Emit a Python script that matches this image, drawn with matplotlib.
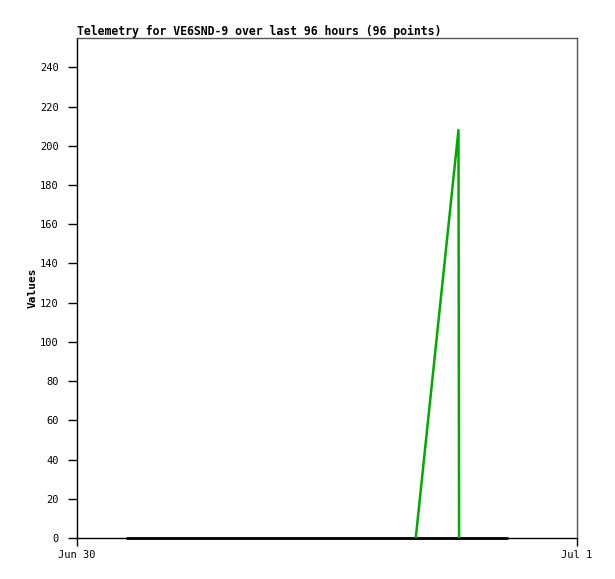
import matplotlib
matplotlib.use("Agg")
import matplotlib.pyplot as plt

# hours since Jun 30 00:00
zero_hours = [2.35, 20.67]
zero_vals = [0, 0]
green_hours = [16.26, 18.31, 18.34]
green_vals = [0, 208, 0]

y_ticks = list(range(0, 241, 20))
x_ticks = [0, 24]
x_labels = ["Jun 30", "Jul 1"]

mono = "DejaVu Sans Mono"

fig = plt.figure(figsize=(6.15, 5.79), dpi=100)
ax = fig.add_axes([77 / 615, 41 / 579, 500 / 615, 500 / 579])

ax.plot(zero_hours, zero_vals, color="black", lw=2.0, solid_capstyle="butt", zorder=3, clip_on=False)
ax.plot(green_hours, green_vals, color="#00aa00", lw=1.8, zorder=4)

ax.set_xlim(0, 24)
ax.set_ylim(0, 255)
ax.set_yticks(y_ticks)
ax.set_xticks(x_ticks)
ax.set_xticklabels(x_labels)

ax.tick_params(axis="y", length=6.5, width=1, pad=6.5, labelsize=7.5)
ax.tick_params(axis="x", length=6, width=1, pad=3, labelsize=7.5)
for lab in ax.get_xticklabels() + ax.get_yticklabels():
    lab.set_family(mono)

ax.spines["top"].set_color("#555555")
ax.spines["right"].set_color("#555555")
for s in ax.spines.values():
    s.set_linewidth(1)

ax.set_ylabel("Values", fontfamily=mono, fontweight="bold", fontsize=8, labelpad=2)
ax.set_title("Telemetry for VE6SND-9 over last 96 hours (96 points)", loc="left",
             fontfamily=mono, fontweight="bold", fontsize=8.3, pad=2)

fig.savefig("out.png", dpi=100)
